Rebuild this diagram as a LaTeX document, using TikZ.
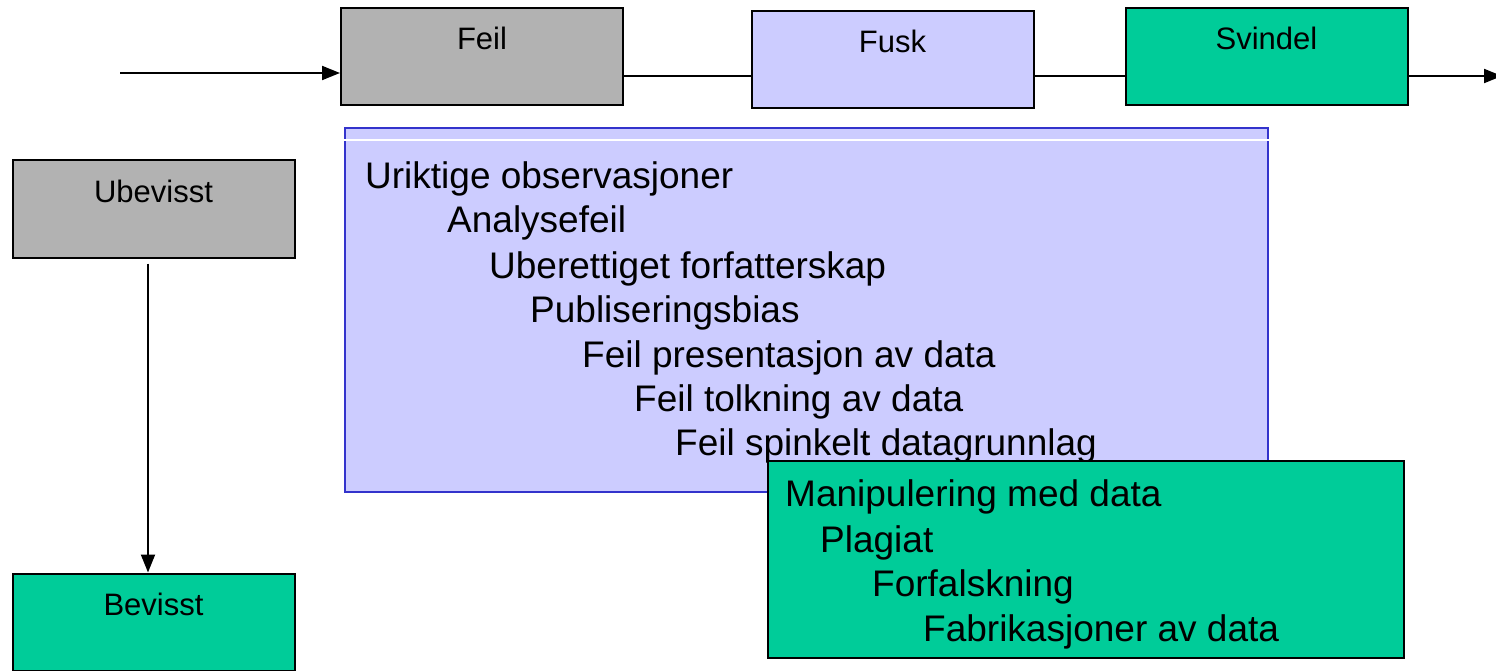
\documentclass[tikz,border=0pt]{standalone}
\usepackage{fontspec}
\setmainfont{Liberation Sans}
\usetikzlibrary{arrows.meta}
\definecolor{feilgray}{HTML}{B2B2B2}
\definecolor{fuskblue}{HTML}{CCCCFF}
\definecolor{svindelgreen}{HTML}{00CC99}
\definecolor{edgeblue}{HTML}{3333CC}

\begin{document}
\begin{tikzpicture}[x=1pt, y=-1pt,
  box/.style={draw, line width=2pt, minimum width=282pt, minimum height=97pt, inner sep=0pt},
  boxtext/.style={anchor=base, inner sep=0pt, font=\fontsize{31}{37}\selectfont},
  listtext/.style={anchor=base west, inner sep=0pt, font=\fontsize{37}{44}\selectfont},
  arr/.style={line width=2pt, -{Triangle[length=18pt, width=14pt]}}]
\useasboundingbox (0,0) rectangle (1496,671);
\node [box, fill=feilgray] (feil) at (482,56.5) {};
\node [box, fill=fuskblue] (fusk) at (892.5,59.5) {};
\node [box, fill=svindelgreen] (svindel) at (1266.5,56.5) {};
\node [box, fill=feilgray] (ubevisst) at (153.5,209) {};
\node [box, fill=svindelgreen] (bevisst) at (153.5,622) {};
\node [boxtext] (feiltext) at ([yshift=-43pt]feil.north) {Feil};
\node [boxtext] (fusktext) at ([yshift=-43pt]fusk.north) {Fusk};
\node [boxtext] (svindeltext) at ([yshift=-43pt]svindel.north) {Svindel};
\node [boxtext] (ubevissttext) at ([yshift=-43pt]ubevisst.north) {Ubevisst};
\node [boxtext] (bevissttext) at ([yshift=-43pt]bevisst.north) {Bevisst};
\coordinate (start) at (120,73);
\coordinate (flow) at (0,76);
\coordinate (finish) at (1502,76);
\draw [arr] (start) -- (start -| feil.west);
\draw [line width=2pt] (feil.east |- flow) -- (fusk.west |- flow);
\draw [line width=2pt] (fusk.east |- flow) -- (svindel.west |- flow);
\draw [arr] (svindel.east |- finish) -- (finish);
\draw [arr] ([xshift=-5.5pt, yshift=-5pt]ubevisst.south)
-- ([xshift=-5.5pt]bevisst.north);
\node [draw=edgeblue, line width=1.5pt, fill=fuskblue, minimum width=923pt,
minimum height=364pt] (faults) at (806.5,310) {};
\draw [white, line width=2pt] (faults.west |- 0,140) -- (faults.east |- 0,140);
\foreach \x/\y/\t [count=\i] in {365/189/Uriktige observasjoner,
447/233/Analysefeil, 489/278/Uberettiget forfatterskap,
530/322/Publiseringsbias, 582/367/Feil presentasjon av data,
634/411/Feil tolkning av data, 675/455/Feil spinkelt datagrunnlag}
\node [listtext] (fault\i) at (\x,\y) {\t};
\node [draw, line width=2pt, fill=svindelgreen, minimum width=636pt,
minimum height=197pt] (manip) at (1086,559.5) {};
\foreach \x/\y/\t [count=\i] in {785/506/Manipulering med data,
820/552/Plagiat, 872/596/Forfalskning, 923/641/Fabrikasjoner av data}
\node [listtext] (fraud\i) at (\x,\y) {\t};
\end{tikzpicture}
\end{document}
